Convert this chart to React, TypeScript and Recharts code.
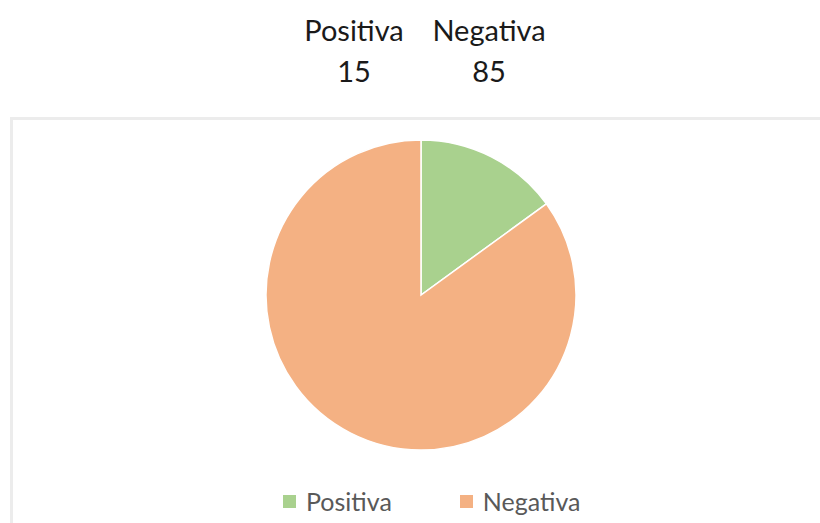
import { Cell, Legend, Pie, PieChart } from "recharts";

const categories = ["Positiva", "Negativa"];
const values = [15, 85];
const colors = ["#a9d18e", "#f4b183"];

const data = categories.map((name, i) => ({ name, value: values[i] }));

const font = "Lato, 'Open Sans', sans-serif";
const headerCenters = [354, 489];

function renderLegend(props: any) {
  const payload = [...(props.payload || [])].sort(
    (a: any, b: any) => categories.indexOf(a.value) - categories.indexOf(b.value)
  );
  return (
    <div style={{ display: "flex", paddingLeft: 270, gap: 68, fontFamily: font }}>
      {payload.map((item: any, idx: number) => (
        <div key={`${item.value}-${idx}`} style={{ display: "flex", alignItems: "center" }}>
          <span style={{ display: "inline-block", width: 13, height: 13, background: item.color, marginRight: 10 }} />
          <span style={{ fontSize: 25, lineHeight: "28px", color: "#595959" }}>{item.value}</span>
        </div>
      ))}
    </div>
  );
}

export default function App() {
  return (
    <div style={{ position: "absolute", left: 0, top: 0, width: 820, height: 523, background: "#fff", overflow: "hidden" }}>
      {data.map((d, i) => (
        <div
          key={d.name}
          style={{
            position: "absolute",
            top: 9,
            left: headerCenters[i] - 100,
            width: 200,
            textAlign: "center",
            fontFamily: font,
            fontSize: 29,
            lineHeight: "41px",
            color: "#1a1a1a",
          }}
        >
          <div>{d.name}</div>
          <div>{d.value}</div>
        </div>
      ))}
      <div style={{ position: "absolute", left: 10, top: 117, width: 820, height: 420, borderTop: "3px solid #ececec", borderLeft: "3px solid #ececec" }}>
        <PieChart width={810} height={405} margin={{ top: 0, right: 0, bottom: 0, left: 0 }}>
          <Pie
            data={data}
            dataKey="value"
            nameKey="name"
            cx={408}
            cy={175}
            outerRadius={155}
            startAngle={90}
            endAngle={-270}
            stroke="#ffffff"
            strokeWidth={1.5}
            isAnimationActive={false}
          >
            {data.map((entry, idx) => (
              <Cell key={`${entry.name}-${idx}`} fill={colors[idx % colors.length]} />
            ))}
          </Pie>
          <Legend content={renderLegend} verticalAlign="bottom" wrapperStyle={{ left: 0, width: 810, bottom: 10 }} />
        </PieChart>
      </div>
    </div>
  );
}
